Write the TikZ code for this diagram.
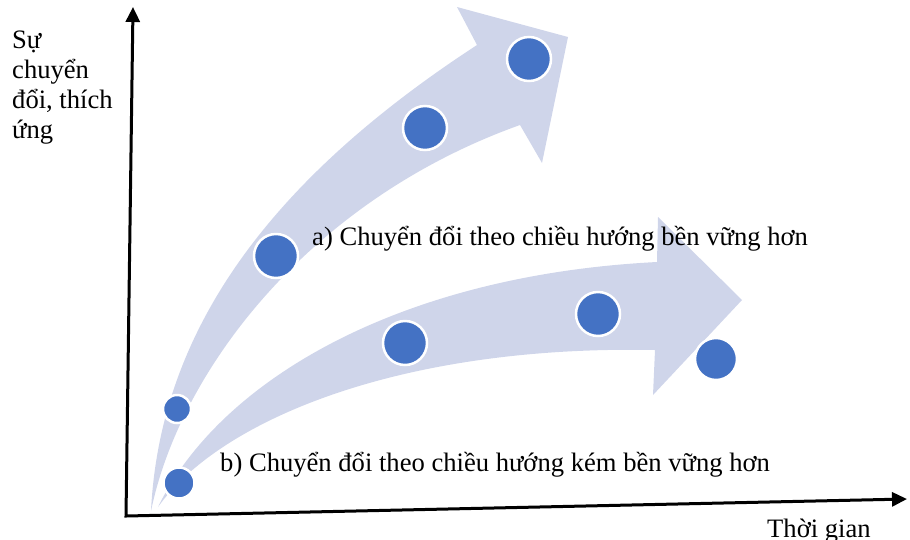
\documentclass[tikz,border=0pt]{standalone}
\usepackage{fontspec}
\setmainfont{Liberation Serif}
\usetikzlibrary{arrows.meta}
\definecolor{bandc}{HTML}{CFD5EA}
\definecolor{dotc}{HTML}{4472C4}
\begin{document}
\begin{tikzpicture}[x=1pt,y=-1pt,
  dot/.style={circle, fill=dotc, draw=white, line width=2.5pt, inner sep=0pt, minimum size=#1},
  lbl/.style={font=\fontsize{26.6}{30}\selectfont, inner sep=0pt, anchor=base west},
  band/.style={fill=bandc},
  axis/.style={line width=3pt, line join=miter, {Triangle[length=15pt,width=14pt]}-{Triangle[length=15pt,width=14pt]}}]
\useasboundingbox (0,0) rectangle (910,539);
% arrows (bands)
\fill[band] (151,511) .. controls (160,330) and (270,180) .. (477,45) -- (457,7) -- (568,37) -- (542,163) -- (520,125) .. controls (310,200) and (180,370) .. (151,511) -- cycle;
\fill[band] (158,507) .. controls (220,380) and (400,275) .. (657,262) -- (658,217) -- (742,300) -- (653,395) -- (655,350) .. controls (400,345) and (220,420) .. (158,507) -- cycle;
% axes
\coordinate (O) at (126,516);
\coordinate (Ytop) at (133,7);
\coordinate (Xend) at (907,499);
\draw[axis] (Ytop) -- (O) -- (Xend);
% dots
\node[dot=28pt] (a1) at (177,409) {};
\node[dot=44pt] (a2) at (276,256) {};
\node[dot=44pt] (a3) at (425,128) {};
\node[dot=44pt] (a4) at (529,59) {};
\node[dot=31pt] (b1) at (179,483) {};
\node[dot=44pt] (b2) at (405,343) {};
\node[dot=44pt] (b3) at (598,314) {};
\node[dot=42pt] (b4) at (716,359) {};
% labels
\node[lbl, anchor=north west, align=left] (ylab) at (12,31) {Sự\\chuyển\\đổi, thích\\ứng};
\node[lbl] (la) at (312,245) {a) Chuyển đổi theo chiều hướng bền vững hơn};
\node[lbl] (lb) at (220,471) {b) Chuyển đổi theo chiều hướng kém bền vững hơn};
\node[lbl] (xlab) at (767,537) {Thời gian};
\end{tikzpicture}
\end{document}
